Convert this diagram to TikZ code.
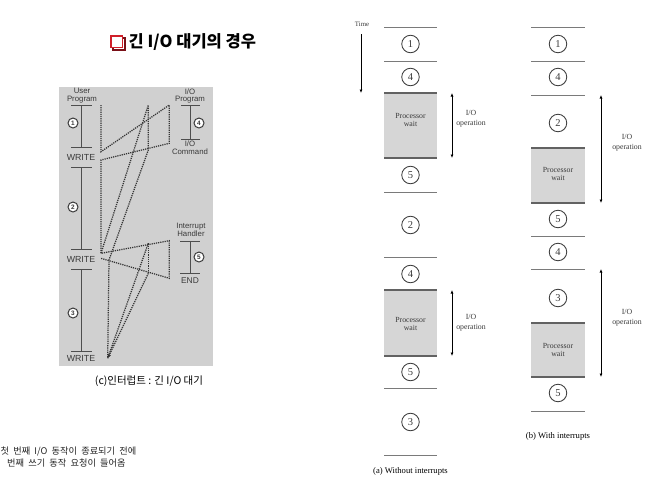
\documentclass[tikz,border=0pt]{standalone}
\usepackage{fontspec}
\setmainfont{Liberation Serif}
\newfontfamily\kr{Noto Sans CJK KR}
\newfontfamily\arl{Liberation Sans}
\usetikzlibrary{arrows.meta}
\definecolor{panelgray}{HTML}{D0D0D0}
\definecolor{boxgray}{HTML}{D6D6D6}
\definecolor{inkgray}{HTML}{3A3A3A}
\definecolor{linegray}{HTML}{7A7A7A}
\definecolor{titlered}{HTML}{D0202A}
\definecolor{shadowred}{HTML}{7A1018}
\tikzset{
  lab/.style={font=\arl\fontsize{7.8}{7.8}\selectfont, text=inkgray, align=center, inner sep=0},
  wlab/.style={font=\arl\fontsize{8.8}{9}\selectfont, text=inkgray, inner sep=0},
  tl/.style={draw=inkgray!90, line width=0.9},
  lcirc/.style={circle, draw=inkgray, fill=white, line width=1.0, minimum size=10, inner sep=0, font=\arl\bfseries\fontsize{6.4}{6.4}\selectfont, text=inkgray},
  dotl/.style={draw=inkgray!90!black, line width=1.25, dash pattern=on 1.2pt off 1pt},
  sep/.style={draw=linegray, line width=0.9},
  boxedge/.style={draw=linegray!80!black, line width=1.3},
  rc/.style={circle, draw=inkgray, line width=0.85, minimum size=17.5, inner sep=0, font=\fontsize{10.5}{10.5}\selectfont, text=inkgray},
  pw/.style={font=\fontsize{7.8}{8.8}\selectfont, text=inkgray, align=center, inner sep=0},
  iolab/.style={font=\fontsize{7.8}{9.8}\selectfont, text=inkgray, align=center, inner sep=0},
  dar/.style={draw=black, line width=0.8, {Latex[length=3.5pt,width=3pt]}-{Latex[length=3.5pt,width=3pt]}},
  captxt/.style={font=\fontsize{8.6}{9}\selectfont, text=black, inner sep=0},
  notetxt/.style={anchor=west, inner sep=0, text=black!85, font={\kr\fontsize{9.2}{12}\selectfont\spaceskip=4.2pt\relax}}
}
\begin{document}
\begin{tikzpicture}[x=1pt,y=-1pt]
\useasboundingbox (0,0) rectangle (667,483);
\fill[white] (0,0) rectangle (667,483);

% ---------- title ----------
\draw[shadowred, line width=1.8] (112.8,37.8) rectangle (124.6,49.6);
\draw[titlered, line width=1.6, fill=white] (110.8,35.8) rectangle (122.6,47.6);
\node[anchor=west, inner sep=0, font=\kr\bfseries\fontsize{16.5}{18}\selectfont] (title) at (128.5,42) {긴 I/O 대기의 경우};

% ---------- left panel ----------
\fill[panelgray] (59,87) rectangle (213,366);

\node[lab] (userprog) at (82,96) {User\\Program};
\draw[tl] (71,105) -- (92,105);
\draw[tl] (81,105) -- (81,147);
\draw[tl] (71,147) -- (92,147);
\node[lcirc] (lc1) at (73,123) {1};
\node[wlab] (w1) at (81,157) {WRITE};

\draw[tl] (71,167) -- (92,167);
\draw[tl] (81,167) -- (81,249);
\draw[tl] (71,249) -- (92,249);
\node[lcirc] (lc2) at (73,207) {2};
\node[wlab] (w2) at (81,259) {WRITE};

\draw[tl] (71,269) -- (92,269);
\draw[tl] (81,269) -- (81,351);
\draw[tl] (71,351) -- (92,351);
\node[lcirc] (lc3) at (73,313) {3};
\node[wlab] (w3) at (81,358.5) {WRITE};

\node[lab] (ioprog) at (190,96) {I/O\\Program};
\draw[tl] (181,105) -- (200,105);
\draw[tl] (190,105) -- (190,139);
\draw[tl] (181,139) -- (200,139);
\node[lcirc] (lc4) at (199,123) {4};
\node[lab] (iocmd) at (190,148) {I/O\\Command};

\node[lab] (inth) at (191,230) {Interrupt\\Handler};
\draw[tl] (180,241) -- (200,241);
\draw[tl] (190,241) -- (190,273);
\draw[tl] (180,273) -- (200,273);
\node[lcirc] (lc5) at (199,257) {5};
\node[lab, font=\arl\fontsize{8.4}{8.4}\selectfont] (endl) at (190,280.5) {END};

% dotted control flow
\coordinate (a0) at (101,105);
\coordinate (a1) at (101,151.7);
\coordinate (io1t) at (169.3,105);
\coordinate (io1b) at (169.3,143.3);
\coordinate (a2) at (101,160);
\coordinate (a3) at (101,253.3);
\coordinate (ih1t) at (169.3,240.7);
\coordinate (ih1b) at (169.3,278.3);
\coordinate (a4) at (101,258.3);
\coordinate (io2t) at (148.3,105);
\coordinate (io2b) at (148.3,150);
\coordinate (a5) at (109,260);
\coordinate (ih2t) at (148.3,243.3);
\coordinate (ih2b) at (148.3,273.3);
\coordinate (aend) at (107.7,358.3);

\draw[dotl] (a0) -- (a1) -- (io1t) -- (io1b) -- (a2) -- (a3) -- (ih1t) -- (ih1b) -- (a4);
\draw[dotl] (a3) -- (io2t) -- (io2b) -- (a5) -- (aend);
\draw[dotl] (ih2t) -- (ih2b);
\draw[dotl] (ih2t) -- (aend);
\draw[dotl, -{Latex[length=4pt,width=3.5pt]}] (ih2b) -- (aend);

\node[font=\kr\fontsize{10.5}{12}\selectfont, inner sep=0] (capc) at (149,381) {(c)인터럽트 : 긴 I/O 대기};

\node[notetxt] (note1) at (0.5,451) {첫 번째 I/O 동작이 종료되기 전에};
\node[notetxt] (note2) at (7,463) {번째 쓰기 동작 요청이 들어옴};

% ---------- (a) without interrupts ----------
\node[font=\fontsize{6.8}{7}\selectfont, text=inkgray, inner sep=0] (time) at (362,24) {Time};
\coordinate (tA) at (361,34);
\coordinate (tB) at (361,93);
\draw[draw=black, line width=0.8, -{Latex[length=3.5pt,width=3pt]}] (tA) -- (tB);

\foreach \yy in {27,61,192,257,388,455} { \draw[sep] (384,\yy) -- (437,\yy); }
\fill[boxgray] (384,93) rectangle (437,158);
\fill[boxgray] (384,290) rectangle (437,356);
\draw[boxedge] (384,93) -- (437,93);
\draw[boxedge] (384,158) -- (437,158);
\draw[boxedge] (384,290) -- (437,290);
\draw[boxedge] (384,356) -- (437,356);

\node[rc] (a1c) at (410.5,44) {1};
\node[rc] (a4c) at (410.5,77) {4};
\node[pw] (apw1) at (410.5,120) {Processor\\wait};
\node[rc] (a5c) at (410.5,175) {5};
\node[rc] (a2c) at (410.5,225) {2};
\node[rc] (a4d) at (410.5,274) {4};
\node[pw] (apw2) at (410.5,324) {Processor\\wait};
\node[rc] (a5d) at (410.5,372) {5};
\node[rc] (a3c) at (410.5,422) {3};

\coordinate (ar1t) at (452,93);
\coordinate (ar1b) at (452,158);
\draw[dar] (ar1t) -- (ar1b);
\node[iolab] (aio1) at (471,119) {I/O\\operation};
\coordinate (ar2t) at (452,290);
\coordinate (ar2b) at (452,356);
\draw[dar] (ar2t) -- (ar2b);
\node[iolab] (aio2) at (471,323) {I/O\\operation};

\node[captxt] (capa) at (410.5,471) {(a) Without interrupts};

% ---------- (b) with interrupts ----------
\foreach \yy in {27,61,95,236,269,411} { \draw[sep] (531,\yy) -- (585,\yy); }
\fill[boxgray] (531,148) rectangle (585,203);
\fill[boxgray] (531,323) rectangle (585,377);
\draw[boxedge] (531,148) -- (585,148);
\draw[boxedge] (531,203) -- (585,203);
\draw[boxedge] (531,323) -- (585,323);
\draw[boxedge] (531,377) -- (585,377);

\node[rc] (b1c) at (558,44) {1};
\node[rc] (b4c) at (558,77) {4};
\node[rc] (b2c) at (558,123) {2};
\node[pw] (bpw1) at (558,174) {Processor\\wait};
\node[rc] (b5c) at (558,219) {5};
\node[rc] (b4d) at (558,252) {4};
\node[rc] (b3c) at (558,298) {3};
\node[pw] (bpw2) at (558,350) {Processor\\wait};
\node[rc] (b5d) at (558,393) {5};

\coordinate (br1t) at (601,95);
\coordinate (br1b) at (601,203);
\draw[dar] (br1t) -- (br1b);
\node[iolab] (bio1) at (627,143) {I/O\\operation};
\coordinate (br2t) at (601,269);
\coordinate (br2b) at (601,377);
\draw[dar] (br2t) -- (br2b);
\node[iolab] (bio2) at (627,318) {I/O\\operation};

\node[captxt] (capb) at (558,436) {(b) With interrupts};
\end{tikzpicture}
\end{document}
